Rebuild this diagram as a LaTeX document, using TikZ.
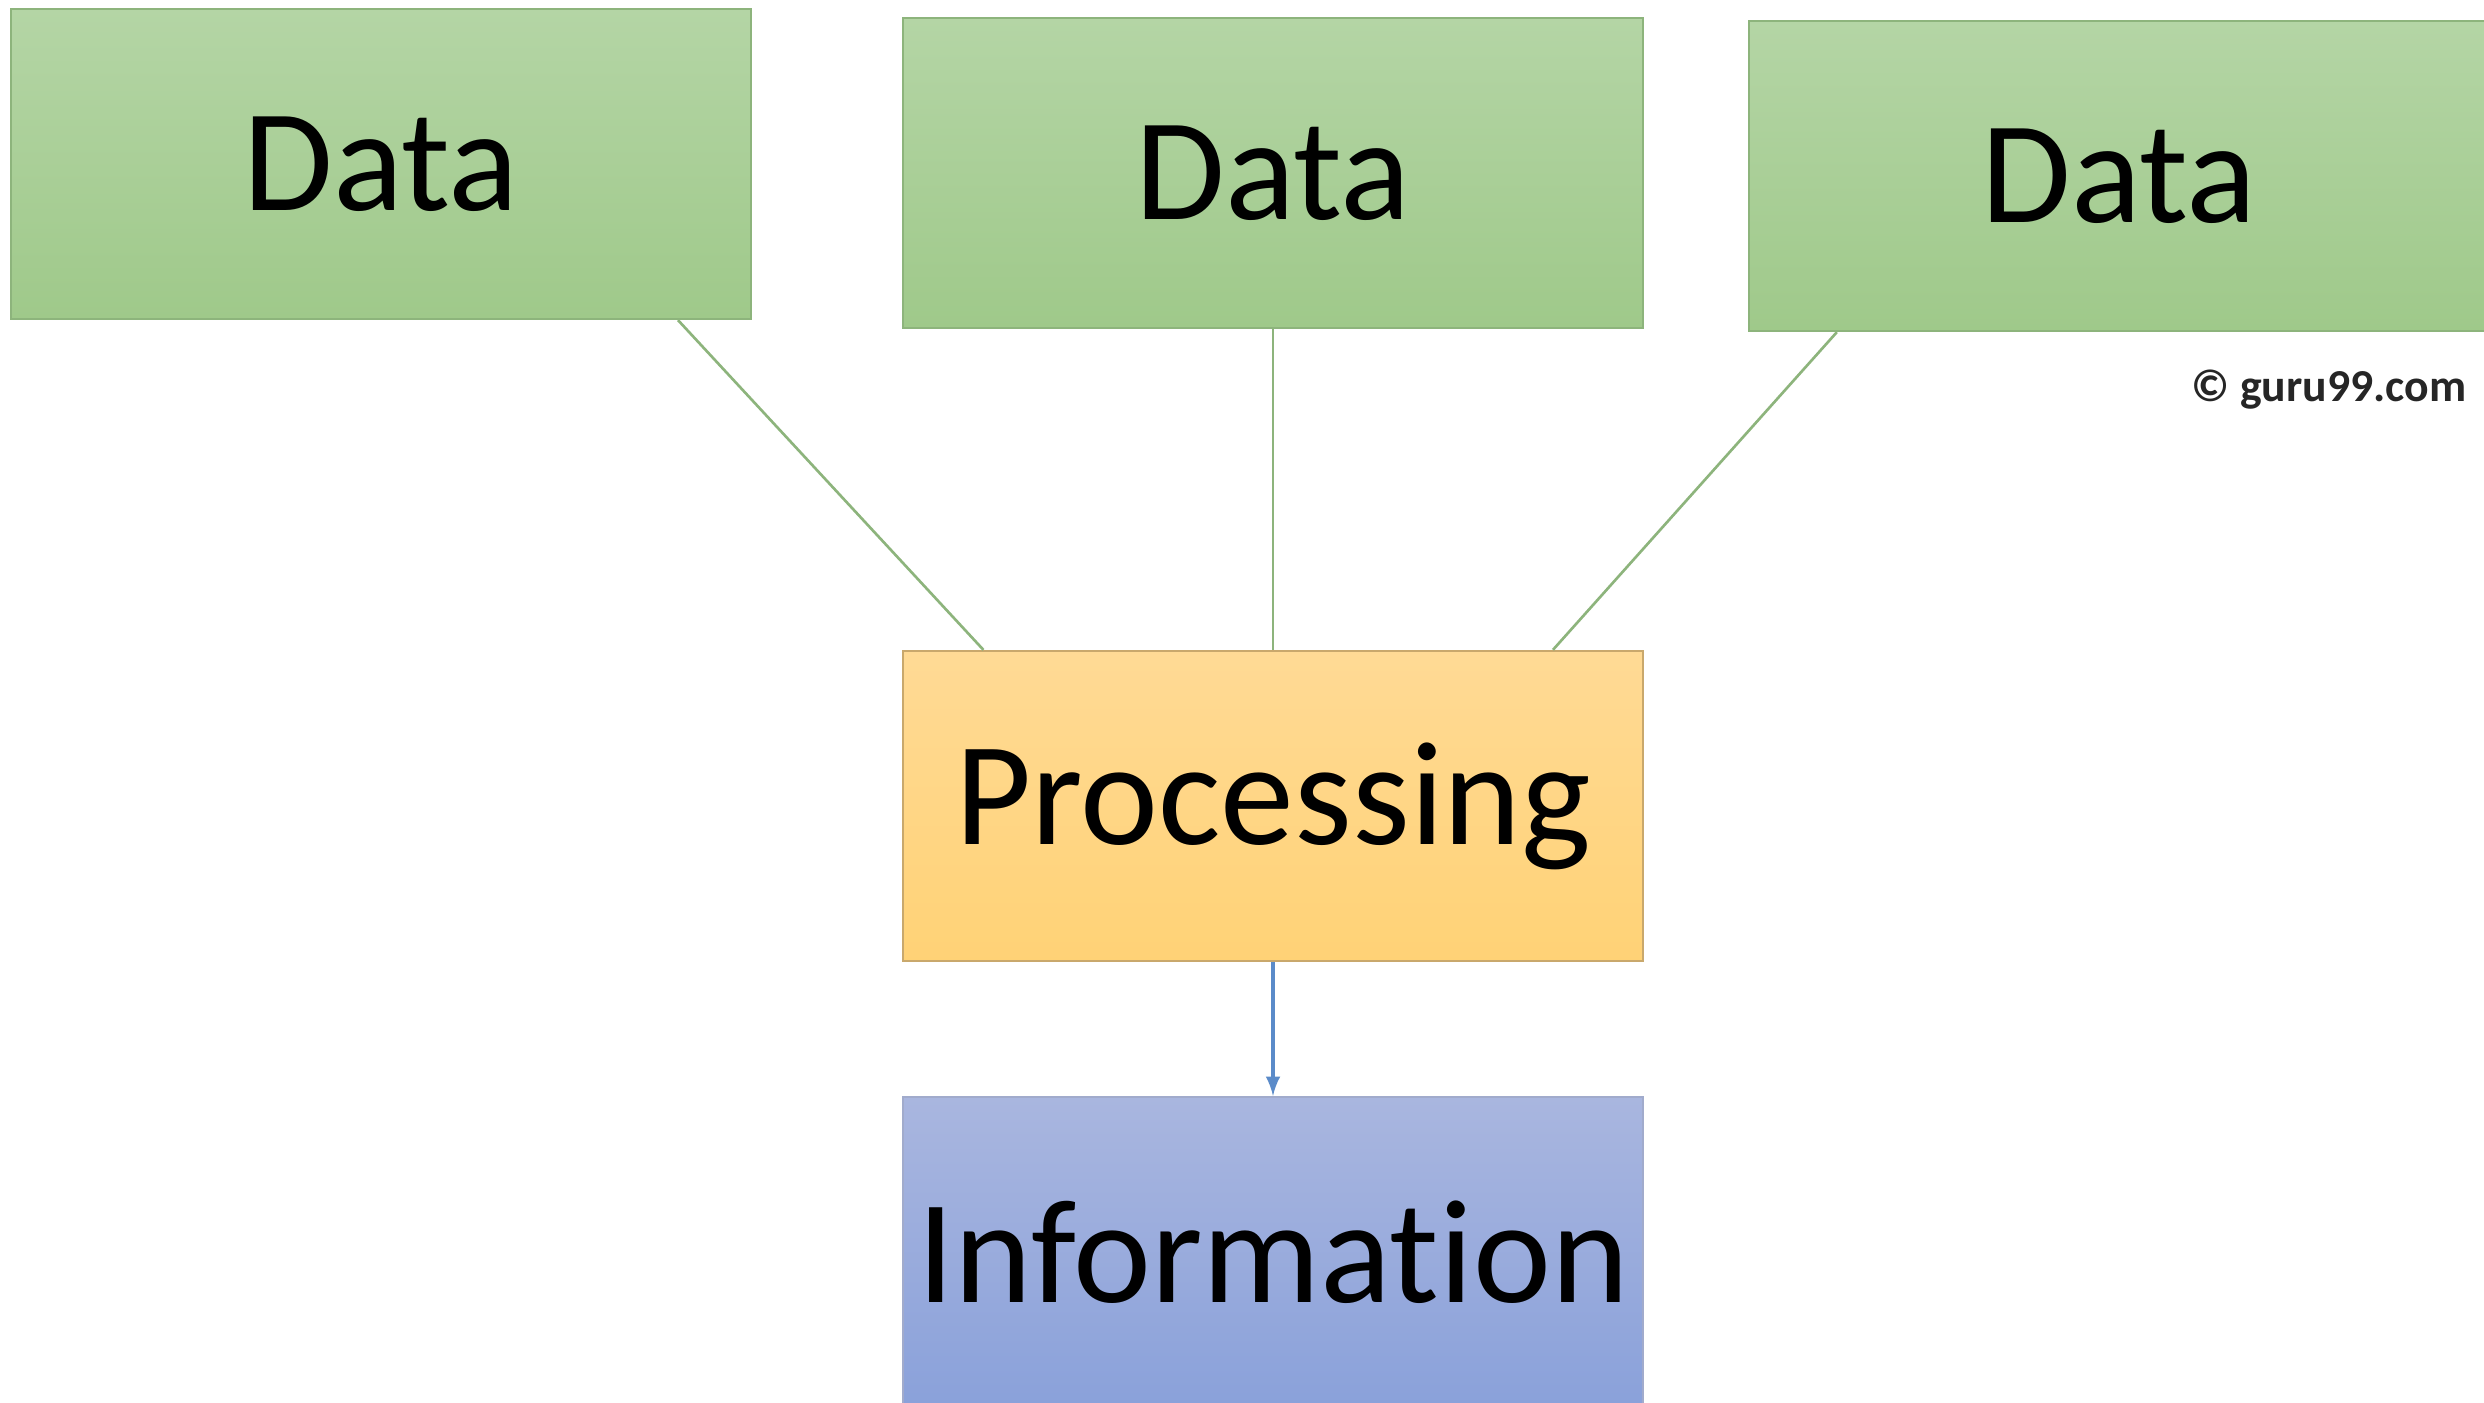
\documentclass[tikz,border=0pt]{standalone}
\usepackage{fontspec}
\setmainfont[Ligatures={NoCommon}]{Carlito}
\usetikzlibrary{calc}
\definecolor{greenTop}{HTML}{B4D5A5}
\definecolor{greenBot}{HTML}{9FC98A}
\definecolor{greenLine}{HTML}{8DB47C}
\definecolor{orangeTop}{HTML}{FFDA95}
\definecolor{orangeBot}{HTML}{FFD276}
\definecolor{orangeLine}{HTML}{C9A86C}
\definecolor{blueTop}{HTML}{A9B6DF}
\definecolor{blueBot}{HTML}{8AA1DA}
\definecolor{blueLine}{HTML}{5B8BC9}
\tikzset{
  box/.style={draw, line width=0.6pt, minimum width=7.4cm, minimum height=3.1cm, inner sep=0pt, font=\fontsize{42}{46}\selectfont},
  databox/.style={box, draw=greenLine, top color=greenTop, bottom color=greenBot, font=\fontsize{41.5}{46}\selectfont},
}
\begin{document}
\begin{tikzpicture}[x=0.01cm, y=-0.01cm]
\useasboundingbox (0,0) rectangle (2484,1403);
\fill[white] (0,0) rectangle (2484,1403);
\begin{scope}
\clip (0,0) rectangle (2484,1403);
\node[databox] (d1) at (381,164) {Data};
\node[databox] (d2) at (1273,173) {Data};
\node[databox] (d3) at (2119,176) {Data};
\node[box, draw=orangeLine, top color=orangeTop, bottom color=orangeBot] (proc) at (1273,806) {\raisebox{-4pt}{Processing}};
\node[box, draw=blueTop!80!gray, top color=blueTop, bottom color=blueBot] (info) at (1273,1252) {Information};
\end{scope}
\node[font=\fontsize{13}{15}\selectfont\bfseries, text=black!85] (copy) at (2329,390) {© guru99.com};
% connectors
\draw[greenLine, line width=0.75pt] ($(d1.south west)!0.9!(d1.south east)$) -- ($(proc.north west)!0.11!(proc.north east)$);
\draw[greenLine, line width=0.75pt] (d2.south) -- (proc.north);
\draw[greenLine, line width=0.75pt] ($(d3.south west)!0.12!(d3.south east)$) -- ($(proc.north west)!0.877!(proc.north east)$);
\draw[-latex, blueLine, line width=0.9pt] (proc.south) -- (info.north);
\end{tikzpicture}
\end{document}
